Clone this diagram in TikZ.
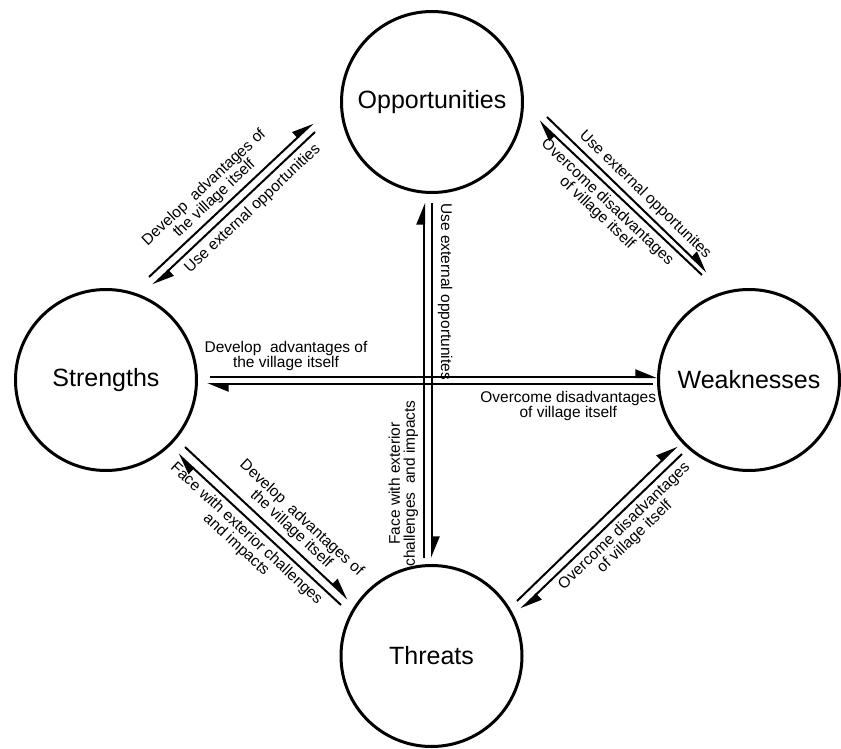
\documentclass[tikz,border=0pt]{standalone}
\usepackage{fontspec}
\setmainfont{Liberation Sans}
\usetikzlibrary{arrows.meta}
\begin{document}
\begin{tikzpicture}[x=1pt,y=-1pt,
  circ/.style={circle, draw, line width=3pt, minimum size=181pt, inner sep=0pt,
    font=\fontsize{25}{30}\selectfont},
  flow/.style={line width=2pt, -{Triangle[harpoon, length=19pt, width=15pt]}},
  lbl/.style={inner sep=0pt, align=center, sloped, font=\fontsize{15.5}{15}\selectfont}]
\useasboundingbox (0,0) rectangle (841,749);

% the four SWOT circles
\node[circ] (O) at (432,102) {Opportunities};
\node[circ] (S) at (106,380) {Strengths};
\node[circ] (W) at (749,380) {Weaknesses};
\node[circ] (T) at (431.5,656) {Threats};

% end points of the paired flows
\coordinate (so1) at (149,277);   \coordinate (so2) at (313,123);
\coordinate (os1) at (315,132);   \coordinate (os2) at (153,285);
\coordinate (ow1) at (547,117);   \coordinate (ow2) at (707,272);
\coordinate (wo1) at (702,275);   \coordinate (wo2) at (539,121);
\coordinate (sw1) at (210,377);   \coordinate (sw2) at (657,377);
\coordinate (ws1) at (653,384);   \coordinate (ws2) at (207,384);
\coordinate (to1) at (424,558);   \coordinate (to2) at (424,203);
\coordinate (ot1) at (432,203);   \coordinate (ot2) at (432,558);
\coordinate (st1) at (185,447);   \coordinate (st2) at (348,599);
\coordinate (ts1) at (341,605);   \coordinate (ts2) at (178,454);
\coordinate (tw1) at (517,601);   \coordinate (tw2) at (677,446);
\coordinate (wt1) at (682,454);   \coordinate (wt2) at (521,609);

% Strengths <-> Opportunities
\draw[flow] (so1) -- node[lbl, pos=0.45, above=4pt] (lso)
  {Develop\ \ advantages of\\the village itself} (so2);
\draw[flow] (os1) -- node[lbl, pos=0.44, below=5pt] (los)
  {Use external opportunities} (os2);

% Opportunities <-> Weaknesses
\draw[flow] (ow1) -- node[lbl, pos=0.56, above=4pt] (low)
  {Use external opportunites} (ow2);
\draw[flow] (wo1) -- node[lbl, pos=0.53, below=4pt] (lwo)
  {Overcome disadvantages\\of village itself} (wo2);

% Strengths <-> Weaknesses
\draw[flow] (sw1) -- node[lbl, pos=0.17, above=5pt] (lsw)
  {Develop\ \ advantages of\\the village itself} (sw2);
\draw[flow] (ws1) -- node[lbl, pos=0.19, below=6pt] (lws)
  {Overcome disadvantages\\of village itself} (ws2);

% Opportunities <-> Threats
\draw[flow] (to1) -- node[lbl, pos=0.21, above=5pt] (lto)
  {Face with exterior\\challenges\ \ and impacts} (to2);
\draw[flow] (ot1) -- node[lbl, pos=0.25, above=5pt] (lot)
  {Use external opportunites} (ot2);

% Strengths <-> Threats
\draw[flow] (st1) -- node[lbl, pos=0.6, above=4pt] (lst)
  {Develop\ \ advantages of\\the village itself} (st2);
\draw[flow] (ts1) -- node[lbl, pos=0.53, below=4pt] (lts)
  {Face with exterior challenges\\and impacts} (ts2);

% Threats <-> Weaknesses
\draw[flow] (tw1) -- (tw2);
\draw[flow] (wt1) -- node[lbl, pos=0.41, below=4pt] (lwt)
  {Overcome disadvantages\\of village itself} (wt2);
\end{tikzpicture}
\end{document}
